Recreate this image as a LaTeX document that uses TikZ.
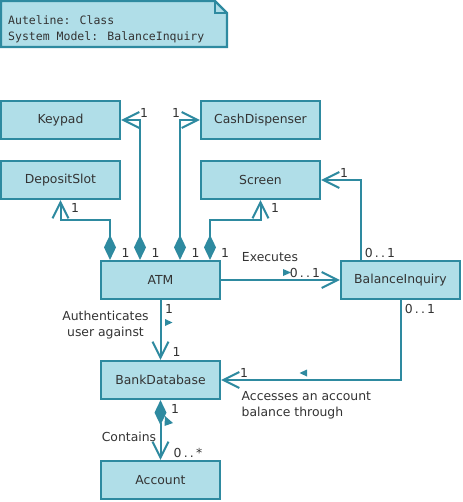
\documentclass[tikz,border=0pt]{standalone}
\usepackage{fontspec}
\setmainfont{DejaVu Sans}
\newfontfamily\monof{DejaVu Sans Mono}
\usetikzlibrary{arrows.meta}
\definecolor{boxfill}{HTML}{B0DEE8}
\definecolor{boxline}{HTML}{2E8AA0}
\definecolor{txt}{HTML}{333333}
\newcommand{\mul}[2]{#1\hspace{2.2pt}.\hspace{2.2pt}.\hspace{2.2pt}#2}
\begin{document}
\begin{tikzpicture}[x=1pt,y=-1pt,
  cls/.style={draw=boxline, fill=boxfill, line width=2.2pt, minimum width=119pt,
    minimum height=38pt, text=txt, inner sep=0pt, font=\fontsize{12.4}{14}\selectfont},
  lbl/.style={text=txt, inner sep=0pt, font=\fontsize{12.4}{16}\selectfont},
  conn/.style={draw=boxline, line width=2pt},
  opentip/.style={-{Straight Barb[length=16pt,width=16pt]}},
  diaopen/.style={{Diamond[length=25pt,width=12pt]}-{Straight Barb[length=16pt,width=16pt]}},
  marker/.style={fill=boxline, draw=none}
]
\useasboundingbox (0,0) rectangle (462,502);

% note
\path[draw=boxline, fill=boxfill, line width=2.2pt]
  (1,1) -- (215,1) -- (227,13) -- (227,47) -- (1,47) -- cycle;
\path[draw=boxline, line width=1.2pt] (215,1) -- (215,13) -- (227,13);
\node[text=txt, inner sep=0pt, anchor=west, align=left,
  font=\monof\fontsize{11.5}{16}\selectfont] (notetext) at (8,29)
  {Auteline: Class\\System Model: BalanceInquiry};

% classes
\node[cls] (Keypad) at (60.5,120) {Keypad};
\node[cls] (CashDispenser) at (260.5,120) {CashDispenser};
\node[cls] (DepositSlot) at (60.5,180) {DepositSlot};
\node[cls] (Screen) at (260.5,180) {Screen};
\node[cls] (ATM) at (160.5,280) {ATM};
\node[cls] (BalanceInquiry) at (400.5,280) {BalanceInquiry};
\node[cls] (BankDatabase) at (160.5,380) {BankDatabase};
\node[cls] (Account) at (160.5,480) {Account};

% connectors
\draw[conn, diaopen] ([xshift=-20.5pt]ATM.north) |- (Keypad.east);
\draw[conn, diaopen] ([xshift=19.5pt]ATM.north) |- (CashDispenser.west);
\draw[conn, diaopen] ([xshift=-50.5pt]ATM.north) |- ([yshift=-20pt]DepositSlot.south) -| (DepositSlot.south);
\draw[conn, diaopen] ([xshift=49.5pt]ATM.north) |- ([yshift=-20pt]Screen.south) -| (Screen.south);
\draw[conn, opentip] (ATM.east) -- (BalanceInquiry.west);
\draw[conn, opentip] ([xshift=-40pt]BalanceInquiry.north) |- (Screen.east);
\draw[conn, opentip] (BalanceInquiry.south) |- (BankDatabase.east);
\draw[conn, opentip] (ATM.south) -- (BankDatabase.north);
\draw[conn, diaopen] (BankDatabase.south) -- (Account.north);

% direction markers
\path[marker] (283,269) -- (291,272.5) -- (283,276) -- cycle;
\path[marker] (165,319) -- (172.5,322.5) -- (165,326) -- cycle;
\path[marker] (307,369.5) -- (299.5,373) -- (307,376.5) -- cycle;
\path[marker] (165,416) -- (173,423) -- (164.5,426) -- cycle;

% labels
\node[lbl] (m1) at (144,112.5) {1};
\node[lbl] (m2) at (176,112.5) {1};
\node[lbl] (m3) at (75,208) {1};
\node[lbl] (m4) at (275,208) {1};
\node[lbl] (m5) at (125.5,252.5) {1};
\node[lbl] (m6) at (155.5,252.5) {1};
\node[lbl] (m7) at (195.5,252.5) {1};
\node[lbl] (m8) at (225,252.5) {1};
\node[lbl] (executes) at (270,257) {Executes};
\node[lbl] (m9) at (305,272.5) {\mul{0}{1}};
\node[lbl] (m10) at (344,173) {1};
\node[lbl] (m11) at (380,252.5) {\mul{0}{1}};
\node[lbl] (m12) at (420,308.5) {\mul{0}{1}};
\node[lbl] (m13) at (169,308.5) {1};
\node[lbl] (m14) at (176.5,352) {1};
\node[lbl, align=center] (auth) at (105.5,325) {Authenticates\\user against};
\node[lbl, align=left, anchor=west] (access) at (241.5,405.5) {Accesses an account\\balance through};
\node[lbl] (m15) at (244,372.5) {1};
\node[lbl] (m16) at (175,409) {1};
\node[lbl] (contains) at (129,436.5) {Contains};
\node[lbl] (m17) at (188,453) {0\hspace{2.2pt}.\hspace{2.2pt}.\hspace{2.2pt}*};
\end{tikzpicture}
\end{document}
